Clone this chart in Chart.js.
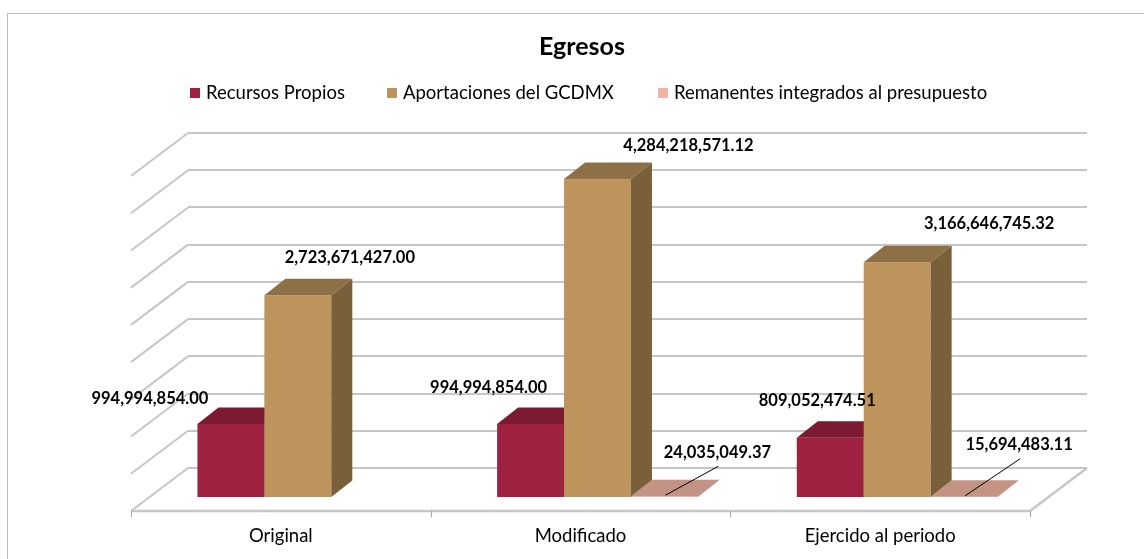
<!DOCTYPE html>
<html>
<head>
<meta charset="utf-8">
<title>Egresos</title>
<script src="https://cdn.jsdelivr.net/npm/chart.js@4.4.1/dist/chart.umd.min.js"></script>
<style>
  html, body { margin: 0; padding: 0; background: #fff; }
  canvas { display: block; }
</style>
</head>
<body>
<canvas id="chart" width="1144" height="559"></canvas>
<script>
const categories = ['Original', 'Modificado', 'Ejercido al periodo'];
const seriesNames = ['Recursos Propios', 'Aportaciones del GCDMX', 'Remanentes integrados al presupuesto'];
const recursosPropios = [994994854.00, 994994854.00, 809052474.51];
const aportaciones = [2723671427.00, 4284218571.12, 3166646745.32];
const remanentes = [null, 24035049.37, 15694483.11];
const yMax = 4500000000;
const yStep = 500000000;

// colours: front, top, side
const palette = [
  { front: '#9E2140', top: '#7B1A31', side: '#6C162B' },
  { front: '#BD945C', top: '#8E7046', side: '#7A603A' },
  { front: '#F0B6A5', top: '#C39384', side: '#A87E70' }
];

// oblique projection of the 3d box
const FLOOR_FRONT = { dx: -57, dy: 43 };
const BAR_FRONT = { dx: -40, dy: 30 };
const BAR_DEPTH = { dx: 21, dy: -16.5 };

// label offsets from the front-top centre of each bar
const labelOffsets = [
  [[-81, -25], [-42, -36], [-13, -37]],
  [[52, -38], [91, -33], [92, -39]],
  [[0, 0], [53, -44], [55, -52]]
];

const FONT = 'Lato, "Open Sans", sans-serif';
const GRID = '#c6c6c6';

function fmt(v) {
  const parts = v.toFixed(2).split('.');
  return parts[0].replace(/\B(?=(\d{3})+(?!\d))/g, ',') + '.' + parts[1];
}

function drawBox(ctx, x0, x1, yTop, yBase, c) {
  const dx = BAR_DEPTH.dx, dy = BAR_DEPTH.dy;
  ctx.fillStyle = c.front;
  ctx.fillRect(x0, yTop, x1 - x0, yBase - yTop);
  ctx.fillStyle = c.top;
  ctx.beginPath();
  ctx.moveTo(x0, yTop);
  ctx.lineTo(x1, yTop);
  ctx.lineTo(x1 + dx, yTop + dy);
  ctx.lineTo(x0 + dx, yTop + dy);
  ctx.closePath();
  ctx.fill();
  ctx.fillStyle = c.side;
  ctx.beginPath();
  ctx.moveTo(x1, yTop);
  ctx.lineTo(x1 + dx, yTop + dy);
  ctx.lineTo(x1 + dx, yBase + dy);
  ctx.lineTo(x1, yBase);
  ctx.closePath();
  ctx.fill();
}

const frame3d = {
  id: 'frame3d',
  beforeDraw(chart) {
    const ctx = chart.ctx;
    const area = chart.chartArea;
    const y = chart.scales.y;
    ctx.save();
    // outer border
    ctx.strokeStyle = '#bdbdbd';
    ctx.lineWidth = 1;
    ctx.strokeRect(7.5, 13.5, 1200, 600);

    // title
    ctx.fillStyle = '#000';
    ctx.textAlign = 'center';
    ctx.textBaseline = 'middle';
    ctx.font = 'bold 25px ' + FONT;
    ctx.fillText('Egresos', 582, 47);

    // legend
    const legendX = [190, 387, 658];
    ctx.font = '18.5px ' + FONT;
    ctx.textAlign = 'left';
    seriesNames.forEach((name, i) => {
      ctx.fillStyle = palette[i].front;
      ctx.fillRect(legendX[i], 88, 10, 10);
      ctx.fillStyle = '#000';
      ctx.fillText(name, legendX[i] + 16, 93);
    });

    // side wall diagonals
    ctx.strokeStyle = GRID;
    ctx.lineWidth = 2;
    y.ticks.forEach(t => {
      const py = y.getPixelForValue(t.value);
      ctx.beginPath();
      ctx.moveTo(area.left, py);
      ctx.lineTo(area.left + FLOOR_FRONT.dx, py + FLOOR_FRONT.dy);
      ctx.stroke();
    });

    // floor
    const base = y.getPixelForValue(0);
    const fy = base + FLOOR_FRONT.dy;
    ctx.lineWidth = 2.5;
    ctx.beginPath();
    ctx.moveTo(area.left + FLOOR_FRONT.dx, fy);
    ctx.lineTo(area.right + FLOOR_FRONT.dx, fy);
    ctx.lineTo(area.right, base);
    ctx.stroke();

    // category ticks and labels on the floor front edge
    const n = categories.length;
    const w = (area.right - area.left) / n;
    ctx.lineWidth = 1;
    ctx.strokeStyle = '#a6a6a6';
    for (let k = 0; k <= n; k++) {
      const tx = Math.round(area.left + FLOOR_FRONT.dx + k * w) + 0.5;
      ctx.beginPath();
      ctx.moveTo(tx, fy);
      ctx.lineTo(tx, fy + 6);
      ctx.stroke();
    }
    ctx.fillStyle = '#000';
    ctx.font = '18.5px ' + FONT;
    ctx.textAlign = 'center';
    const xs = chart.scales.x;
    categories.forEach((c, k) => {
      ctx.fillText(c, xs.getPixelForValue(k) + FLOOR_FRONT.dx, 536);
    });
    ctx.restore();
  },
  beforeDatasetsDraw(chart) {
    const ctx = chart.ctx;
    ctx.save();
    const n = categories.length;
    for (let k = 0; k < n; k++) {
      chart.data.datasets.forEach((ds, i) => {
        if (ds.data[k] == null) return;
        const el = chart.getDatasetMeta(i).data[k];
        const x0 = el.x - el.width / 2 + BAR_FRONT.dx;
        const x1 = el.x + el.width / 2 + BAR_FRONT.dx;
        drawBox(ctx, x0, x1, el.y + BAR_FRONT.dy, el.base + BAR_FRONT.dy, palette[i]);
      });
    }
    ctx.restore();
    return false;
  },
  afterDraw(chart) {
    const ctx = chart.ctx;
    ctx.save();
    ctx.font = 'bold 16.5px ' + FONT;
    ctx.textAlign = 'center';
    ctx.textBaseline = 'middle';
    chart.data.datasets.forEach((ds, i) => {
      ds.data.forEach((v, k) => {
        if (v == null) return;
        const el = chart.getDatasetMeta(i).data[k];
        const cx = el.x + BAR_FRONT.dx;
        const cy = el.y + BAR_FRONT.dy;
        const lx = cx + labelOffsets[i][k][0];
        const ly = cy + labelOffsets[i][k][1];
        if (i === 2) {
          // leader line for the flat bars
          ctx.strokeStyle = '#000';
          ctx.lineWidth = 1;
          ctx.beginPath();
          ctx.moveTo(cx + 1, cy - 1);
          ctx.lineTo(lx + 1, ly + 14);
          ctx.stroke();
        }
        ctx.fillStyle = '#000';
        ctx.fillText(fmt(v), lx, ly);
      });
    });
    ctx.restore();
  }
};

new Chart(document.getElementById('chart'), {
  type: 'bar',
  data: {
    labels: categories,
    datasets: [
      { label: seriesNames[0], data: recursosPropios, backgroundColor: palette[0].front },
      { label: seriesNames[1], data: aportaciones, backgroundColor: palette[1].front },
      { label: seriesNames[2], data: remanentes, backgroundColor: palette[2].front }
    ]
  },
  options: {
    responsive: false,
    animation: false,
    devicePixelRatio: 1,
    layout: { padding: { left: 188, right: 57, top: 133, bottom: 91 } },
    datasets: { bar: { categoryPercentage: 0.67, barPercentage: 1 } },
    plugins: {
      legend: { display: false },
      title: { display: false },
      tooltip: { enabled: false }
    },
    scales: {
      x: {
        display: false,
        offset: true
      },
      y: {
        min: 0,
        max: yMax,
        ticks: { stepSize: yStep, display: false },
        grid: { color: GRID, lineWidth: 2, drawTicks: false },
        border: { display: false }
      }
    }
  },
  plugins: [frame3d]
});
</script>
</body>
</html>
